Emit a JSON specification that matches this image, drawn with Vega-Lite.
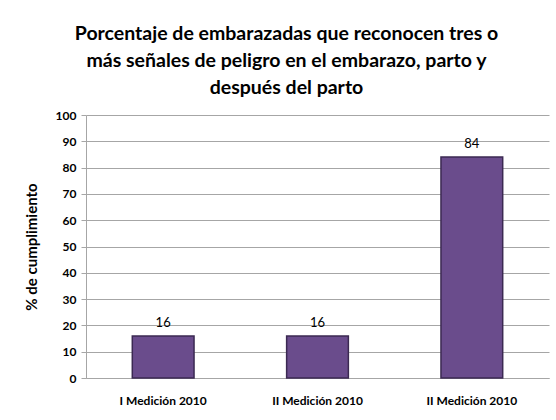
{
  "$schema": "https://vega.github.io/schema/vega-lite/v6.json",
  "autosize": {"type": "none"},
  "width": 463,
  "height": 263,
  "padding": {"left": 86, "top": 115, "right": 7, "bottom": 42},
  "background": "white",
  "config": {
    "view": {"stroke": null},
    "font": "Lato"
  },
  "title": {
    "text": ["Porcentaje de embarazadas que reconocen tres o", "más señales de peligro en el embarazo, parto y", "después del parto"],
    "font": "Lato",
    "fontSize": 19.5,
    "fontWeight": "bold",
    "color": "#000000",
    "lineHeight": 27,
    "anchor": "middle",
    "dx": -31,
    "offset": 11
  },
  "data": {
    "values": [
      {"medicion": "I Medición 2010", "valor": 16},
      {"medicion": "II Medición  2010", "valor": 16},
      {"medicion": "II Medición 2010", "valor": 84}
    ]
  },
  "encoding": {
    "x": {
      "field": "medicion",
      "type": "nominal",
      "sort": null,
      "scale": {"paddingInner": 0.6, "paddingOuter": 0.3},
      "axis": {
        "title": null,
        "labelAngle": 0,
        "labelFont": "Lato",
        "labelFontSize": 12,
        "labelFontWeight": "bold",
        "labelColor": "#000000",
        "labelPadding": 17,
        "ticks": false,
        "domainColor": "#a6a6a6",
        "grid": false
      }
    },
    "y": {
      "field": "valor",
      "type": "quantitative",
      "scale": {"domain": [0, 100], "nice": false},
      "axis": {
        "title": "% de cumplimiento",
        "titleFont": "Lato",
        "titleFontSize": 15,
        "titleFontWeight": "bold",
        "titleColor": "#000000",
        "titlePadding": 16,
        "values": [0, 10, 20, 30, 40, 50, 60, 70, 80, 90, 100],
        "labelFont": "Lato",
        "labelFontSize": 12,
        "labelFontWeight": "bold",
        "labelColor": "#000000",
        "labelPadding": 5,
        "tickSize": 5,
        "tickColor": "#a6a6a6",
        "domainColor": "#a6a6a6",
        "grid": true,
        "gridColor": "#a6a6a6",
        "gridWidth": 1
      }
    }
  },
  "layer": [
    {
      "mark": {"type": "bar", "color": "#6a4c8c", "stroke": "#3b2952", "strokeWidth": 1.5}
    },
    {
      "mark": {"type": "text", "dy": -6, "baseline": "bottom", "font": "Lato", "fontSize": 13, "color": "#000000"},
      "encoding": {"text": {"field": "valor", "type": "quantitative"}}
    }
  ]
}
